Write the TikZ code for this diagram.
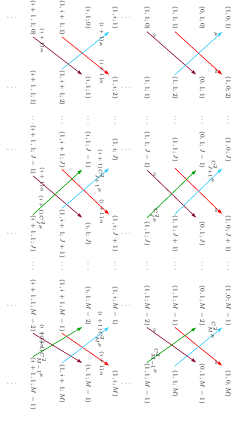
\documentclass[tikz,border=0pt]{standalone}
\usepackage{xcolor}
\definecolor{myred}{HTML}{FF0000}
\definecolor{mymaroon}{HTML}{8B0A2E}
\definecolor{mycyan}{HTML}{33CCFF}
\definecolor{mygreen}{HTML}{00A000}
\usepackage{tikz}
\usetikzlibrary{arrows.meta}
\tikzset{
    % States of the chain
    statebox/.style={ inner xsep=1pt, inner ysep=2.5pt, font=\fontsize{6.5}{7.5}\selectfont, minimum width=#1 },
    statebox/.default=26pt,
    dotsbox/.style={ inner sep=1pt, font=\fontsize{7}{8}\selectfont },
    % Transitions
    arrow/.style={ -{Latex[length=5pt, width=3.5pt]}, line width=0.6pt },
    rate/.style={ inner sep=1.5pt, text=black, font=\fontsize{5.5}{6}\selectfont },
}

\begin{document}
\begin{tikzpicture}[rotate=-90, transform shape, x=1pt, y=1pt]
    \useasboundingbox (0,0) rectangle (423,242);

    % Row (1,0;k)
    \node[statebox=27pt] (a-1) at (18,228) {$(1,0;1)$};
    \node[statebox=26pt] (a-2) at (88,228) {$(1,0;2)$};
    \node[statebox=36pt] (a-3) at (150,228) {$(1,0;J)$};
    \node[statebox=32pt] (a-4) at (234,228) {$(1,0;J+1)$};
    \node[statebox=38pt] (a-5) at (306,228) {$(1,0;M-1)$};
    \node[statebox=36pt] (a-6) at (384,228) {$(1,0;M)$};

    % Row (0,1;k)
    \node[statebox=27pt] (b-1) at (18,202) {$(0,1;0)$};
    \node[statebox=26pt] (b-2) at (88,202) {$(0,1;1)$};
    \node[statebox=36pt] (b-3) at (150,202) {$(0,1;J-1)$};
    \node[statebox=32pt] (b-4) at (234,202) {$(0,1;J)$};
    \node[statebox=38pt] (b-5) at (306,202) {$(0,1;M-2)$};
    \node[statebox=36pt] (b-6) at (384,202) {$(0,1;M-1)$};

    % Row (1,1;k)
    \node[statebox=27pt] (c-1) at (18,175) {$(1,1;1)$};
    \node[statebox=26pt] (c-2) at (88,175) {$(1,1;2)$};
    \node[statebox=36pt] (c-3) at (150,175) {$(1,1;J)$};
    \node[statebox=32pt] (c-4) at (234,175) {$(1,1;J+1)$};
    \node[statebox=38pt] (c-5) at (306,175) {$(1,1;M-1)$};
    \node[statebox=36pt] (c-6) at (384,175) {$(1,1;M)$};

    % Row (1,1;k-1)
    \node[statebox=27pt] (d-1) at (18,147) {$(1,1;0)$};
    \node[statebox=26pt] (d-2) at (88,147) {$(1,1;1)$};
    \node[statebox=36pt] (d-3) at (150,147) {$(1,1;J-1)$};
    \node[statebox=32pt] (d-4) at (234,147) {$(1,1;J)$};
    \node[statebox=38pt] (d-5) at (306,147) {$(1,1;M-2)$};
    \node[statebox=36pt] (d-6) at (384,147) {$(1,1;M-1)$};

    % Row (1,i;k)
    \node[statebox=27pt] (e-1) at (18,115) {$(1,i;1)$};
    \node[statebox=26pt] (e-2) at (88,115) {$(1,i;2)$};
    \node[statebox=36pt] (e-3) at (150,115) {$(1,i;J)$};
    \node[statebox=32pt] (e-4) at (234,115) {$(1,i;J+1)$};
    \node[statebox=38pt] (e-5) at (306,115) {$(1,i;M-1)$};
    \node[statebox=36pt] (e-6) at (384,115) {$(1,i;M)$};

    % Row (i,1;k)
    \node[statebox=27pt] (f-1) at (18,88) {$(i,1;0)$};
    \node[statebox=26pt] (f-2) at (88,88) {$(i,1;1)$};
    \node[statebox=36pt] (f-3) at (150,88) {$(i,1;J-1)$};
    \node[statebox=32pt] (f-4) at (234,88) {$(i,1;J)$};
    \node[statebox=38pt] (f-5) at (306,88) {$(i,1;M-2)$};
    \node[statebox=36pt] (f-6) at (384,88) {$(i,1;M-1)$};

    % Row (1,i+1;k)
    \node[statebox=27pt] (g-1) at (18,62) {$(1,i+1;1)$};
    \node[statebox=26pt] (g-2) at (88,62) {$(1,i+1;2)$};
    \node[statebox=36pt] (g-3) at (150,62) {$(1,i+1;J)$};
    \node[statebox=32pt] (g-4) at (234,62) {$(1,i+1;J+1)$};
    \node[statebox=38pt] (g-5) at (306,62) {$(1,i+1;M-1)$};
    \node[statebox=36pt] (g-6) at (384,62) {$(1,i+1;M)$};

    % Row (i+1,1;k)
    \node[statebox=27pt] (h-1) at (18,33) {$(i+1,1;0)$};
    \node[statebox=26pt] (h-2) at (88,33) {$(i+1,1;1)$};
    \node[statebox=36pt] (h-3) at (150,33) {$(i+1,1;J-1)$};
    \node[statebox=32pt] (h-4) at (234,33) {$(i+1,1;J)$};
    \node[statebox=38pt] (h-5) at (306,33) {$(i+1,1;M-2)$};
    \node[statebox=36pt] (h-6) at (384,33) {$(i+1,1;M-1)$};

    % Dots between the blocks
    \node[dotsbox] (dots-a-1) at (120,228) {$\cdots$};
    \node[dotsbox] (dots-b-1) at (120,202) {$\cdots$};
    \node[dotsbox] (dots-c-1) at (120,175) {$\cdots$};
    \node[dotsbox] (dots-d-1) at (120,147) {$\cdots$};
    \node[dotsbox] (dots-e-1) at (120,115) {$\cdots$};
    \node[dotsbox] (dots-f-1) at (120,88) {$\cdots$};
    \node[dotsbox] (dots-g-1) at (120,62) {$\cdots$};
    \node[dotsbox] (dots-h-1) at (120,33) {$\cdots$};
    \node[dotsbox] (dots-a-2) at (266,228) {$\cdots$};
    \node[dotsbox] (dots-b-2) at (266,202) {$\cdots$};
    \node[dotsbox] (dots-c-2) at (266,175) {$\cdots$};
    \node[dotsbox] (dots-d-2) at (266,147) {$\cdots$};
    \node[dotsbox] (dots-e-2) at (266,115) {$\cdots$};
    \node[dotsbox] (dots-f-2) at (266,88) {$\cdots$};
    \node[dotsbox] (dots-g-2) at (266,62) {$\cdots$};
    \node[dotsbox] (dots-h-2) at (266,33) {$\cdots$};

    \node[dotsbox] (vdots-top-1) at (18,129) {$\vdots$};
    \node[dotsbox] (vdots-top-2) at (88,129) {$\vdots$};
    \node[dotsbox] (vdots-top-3) at (150,129) {$\vdots$};
    \node[dotsbox] (vdots-top-4) at (234,129) {$\vdots$};
    \node[dotsbox] (vdots-top-5) at (306,129) {$\vdots$};
    \node[dotsbox] (vdots-top-6) at (384,129) {$\vdots$};
    \node[dotsbox] (vdots-bot-1) at (18,15) {$\vdots$};
    \node[dotsbox] (vdots-bot-2) at (88,15) {$\vdots$};
    \node[dotsbox] (vdots-bot-3) at (150,15) {$\vdots$};
    \node[dotsbox] (vdots-bot-4) at (234,15) {$\vdots$};
    \node[dotsbox] (vdots-bot-5) at (306,15) {$\vdots$};
    \node[dotsbox] (vdots-bot-6) at (384,15) {$\vdots$};

    % First block
    \draw[arrow, mymaroon] (d-1.east) -- node[rate, above, pos=0.1] {$\alpha$} (b-2.south west);
    \draw[arrow, myred] (c-1.east) -- node[rate, below, pos=0.93] {$\alpha$} (a-2.south west);
    \draw[arrow, mycyan] (c-2.west) -- node[rate, below, pos=0.93] {$\mu$} (a-1.south east);
    \draw[arrow, mymaroon] (h-1.east) -- node[rate, above, pos=0.1] {$(i+1)\alpha$} (f-2.south west);
    \draw[arrow, myred] (g-1.east) -- node[rate, below, pos=0.93] {$(i+1)\alpha$} (e-2.south west);
    \draw[arrow, mycyan] (g-2.west) -- node[rate, below, pos=0.93] {$(i+1)\mu$} (e-1.south east);

    % Second block
    \draw[arrow, mymaroon] (d-3.east) -- node[rate, above, pos=0.1] {$\alpha$} (b-4.south west);
    \draw[arrow, myred] (c-3.east) -- node[rate, below, pos=0.93] {$\alpha$} (a-4.south west);
    \draw[arrow, mycyan] (c-4.west) -- node[rate, below, pos=0.93] {$C_{J+1}^{2}\mu$} (a-3.south east);
    \draw[arrow, mygreen] (d-4.west) -- node[rate, above, pos=0.04] {$C_{J}^{2}\mu$} (b-3.south east);
    \draw[arrow, mymaroon] (h-3.east) -- node[rate, above, pos=0.1] {$(i+1)\alpha$} (f-4.south west);
    \draw[arrow, myred] (g-3.east) -- node[rate, below, pos=0.93] {$(i+1)\alpha$} (e-4.south west);
    \draw[arrow, mycyan] (g-4.west) -- node[rate, below, pos=0.93] {$(i+1)C_{J+1}^{2}\mu$} (e-3.south east);
    \draw[arrow, mygreen] (h-4.west) -- node[rate, above, pos=0.04] {$(i+1)C_{J}^{2}\mu$} (f-3.south east);

    % Third block
    \draw[arrow, mymaroon] (d-5.east) -- node[rate, above, pos=0.1] {$\alpha$} (b-6.south west);
    \draw[arrow, myred] (c-5.east) -- node[rate, below, pos=0.93] {$\alpha$} (a-6.south west);
    \draw[arrow, mycyan] (c-6.west) -- node[rate, below, pos=0.93] {$C_{M}^{2}\mu$} (a-5.south east);
    \draw[arrow, mygreen] (d-6.west) -- node[rate, above, pos=0.04] {$C_{M-1}^{2}\mu$} (b-5.south east);
    \draw[arrow, mymaroon] (h-5.east) -- node[rate, above, pos=0.1] {$(i+1)\alpha$} (f-6.south west);
    \draw[arrow, myred] (g-5.east) -- node[rate, below, pos=0.93] {$(i+1)\alpha$} (e-6.south west);
    \draw[arrow, mycyan] (g-6.west) -- node[rate, below, pos=0.93] {$(i+1)C_{M}^{2}\mu$} (e-5.south east);
    \draw[arrow, mygreen] (h-6.west) -- node[rate, above, pos=0.04] {$(i+1)C_{M-1}^{2}\mu$} (f-5.south east);
\end{tikzpicture}
\end{document}
